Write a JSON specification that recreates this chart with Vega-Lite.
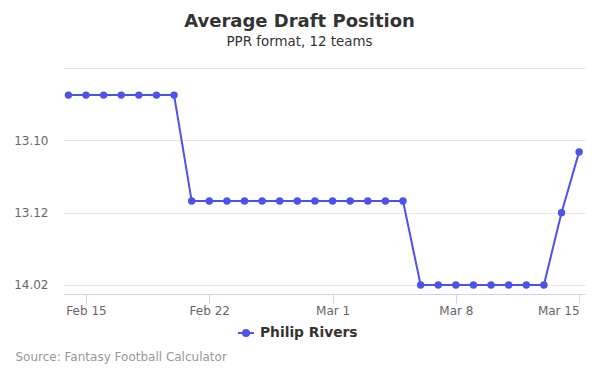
{
  "$schema": "https://vega.github.io/schema/vega-lite/v6.json",
  "autosize": {"type": "none"},
  "padding": {"left": 64, "top": 68, "right": 15, "bottom": 81},
  "width": 521,
  "height": 226,
  "background": "white",
  "config": {
    "font": "DejaVu Sans",
    "view": {"stroke": null}
  },
  "title": {
    "text": "Average Draft Position",
    "subtitle": "PPR format, 12 teams",
    "anchor": "middle",
    "dx": -25,
    "offset": 20,
    "fontSize": 18,
    "fontWeight": "bold",
    "color": "#333333",
    "subtitleFontSize": 13.4,
    "subtitleColor": "#333333",
    "subtitlePadding": 4
  },
  "data": {
    "values": [
      {"date": "2019-02-14T00:00:00", "adp": 152.75, "player": "Philip Rivers"},
      {"date": "2019-02-15T00:00:00", "adp": 152.75, "player": "Philip Rivers"},
      {"date": "2019-02-16T00:00:00", "adp": 152.75, "player": "Philip Rivers"},
      {"date": "2019-02-17T00:00:00", "adp": 152.75, "player": "Philip Rivers"},
      {"date": "2019-02-18T00:00:00", "adp": 152.75, "player": "Philip Rivers"},
      {"date": "2019-02-19T00:00:00", "adp": 152.75, "player": "Philip Rivers"},
      {"date": "2019-02-20T00:00:00", "adp": 152.75, "player": "Philip Rivers"},
      {"date": "2019-02-21T00:00:00", "adp": 155.68, "player": "Philip Rivers"},
      {"date": "2019-02-22T00:00:00", "adp": 155.68, "player": "Philip Rivers"},
      {"date": "2019-02-23T00:00:00", "adp": 155.68, "player": "Philip Rivers"},
      {"date": "2019-02-24T00:00:00", "adp": 155.68, "player": "Philip Rivers"},
      {"date": "2019-02-25T00:00:00", "adp": 155.68, "player": "Philip Rivers"},
      {"date": "2019-02-26T00:00:00", "adp": 155.68, "player": "Philip Rivers"},
      {"date": "2019-02-27T00:00:00", "adp": 155.68, "player": "Philip Rivers"},
      {"date": "2019-02-28T00:00:00", "adp": 155.68, "player": "Philip Rivers"},
      {"date": "2019-03-01T00:00:00", "adp": 155.68, "player": "Philip Rivers"},
      {"date": "2019-03-02T00:00:00", "adp": 155.68, "player": "Philip Rivers"},
      {"date": "2019-03-03T00:00:00", "adp": 155.68, "player": "Philip Rivers"},
      {"date": "2019-03-04T00:00:00", "adp": 155.68, "player": "Philip Rivers"},
      {"date": "2019-03-05T00:00:00", "adp": 155.68, "player": "Philip Rivers"},
      {"date": "2019-03-06T00:00:00", "adp": 158, "player": "Philip Rivers"},
      {"date": "2019-03-07T00:00:00", "adp": 158, "player": "Philip Rivers"},
      {"date": "2019-03-08T00:00:00", "adp": 158, "player": "Philip Rivers"},
      {"date": "2019-03-09T00:00:00", "adp": 158, "player": "Philip Rivers"},
      {"date": "2019-03-10T00:00:00", "adp": 158, "player": "Philip Rivers"},
      {"date": "2019-03-11T00:00:00", "adp": 158, "player": "Philip Rivers"},
      {"date": "2019-03-12T00:00:00", "adp": 158, "player": "Philip Rivers"},
      {"date": "2019-03-13T00:00:00", "adp": 158, "player": "Philip Rivers"},
      {"date": "2019-03-14T00:00:00", "adp": 156, "player": "Philip Rivers"},
      {"date": "2019-03-15T00:00:00", "adp": 154.32, "player": "Philip Rivers"}
    ]
  },
  "mark": {
    "type": "line",
    "strokeWidth": 2,
    "point": {"filled": true, "size": 55, "opacity": 1}
  },
  "encoding": {
    "x": {
      "field": "date",
      "type": "temporal",
      "scale": {
        "domain": [
          {"year": 2019, "month": 2, "date": 13, "hours": 18},
          {"year": 2019, "month": 3, "date": 15, "hours": 8}
        ]
      },
      "axis": {
        "values": [
          {"year": 2019, "month": 2, "date": 15},
          {"year": 2019, "month": 2, "date": 22},
          {"year": 2019, "month": 3, "date": 1},
          {"year": 2019, "month": 3, "date": 8},
          {"year": 2019, "month": 3, "date": 15}
        ],
        "format": "%b %-d",
        "grid": false,
        "domainColor": "#ccd6eb",
        "tickColor": "#ccd6eb",
        "tickSize": 9,
        "labelColor": "#666666",
        "labelFontSize": 12,
        "labelPadding": 2,
        "labelFlush": 10,
        "title": "Source: Fantasy Football Calculator",
        "titleAnchor": "start",
        "titleX": -49,
        "titleY": 62,
        "titleBaseline": "middle",
        "titleAlign": "left",
        "titleColor": "#999999",
        "titleFontSize": 12,
        "titleFontWeight": "normal"
      }
    },
    "y": {
      "field": "adp",
      "type": "quantitative",
      "scale": {"domain": [152, 158.25], "reverse": true, "nice": false, "zero": false},
      "axis": {
        "values": [152, 154, 156, 158],
        "labelExpr": "datum.value == 152 ? '' : (floor((datum.value - 1) / 12) + 1) + '.' + ((datum.value - floor((datum.value - 1) / 12) * 12) < 10 ? '0' : '') + (datum.value - floor((datum.value - 1) / 12) * 12)",
        "domain": false,
        "ticks": false,
        "gridColor": "#e6e6e6",
        "labelColor": "#666666",
        "labelFontSize": 12,
        "labelPadding": 16,
        "title": null
      }
    },
    "color": {
      "field": "player",
      "type": "nominal",
      "scale": {"range": ["#4b53e8"]},
      "legend": {
        "title": null,
        "orient": "none",
        "legendX": 173,
        "legendY": 256,
        "symbolType": "M-1,0L1,0M-0.38,0A0.38,0.38,0,1,0,0.38,0A0.38,0.38,0,1,0,-0.38,0Z",
        "symbolSize": 256,
        "symbolStrokeWidth": 2,
        "labelFontSize": 13.8,
        "labelFontWeight": "bold",
        "labelColor": "#333333",
        "labelOffset": 5,
        "encode": {
          "symbols": {"update": {"fill": {"value": "#4b53e8"}, "stroke": {"value": "#4b53e8"}, "opacity": {"value": 1}}}
        }
      }
    }
  }
}
